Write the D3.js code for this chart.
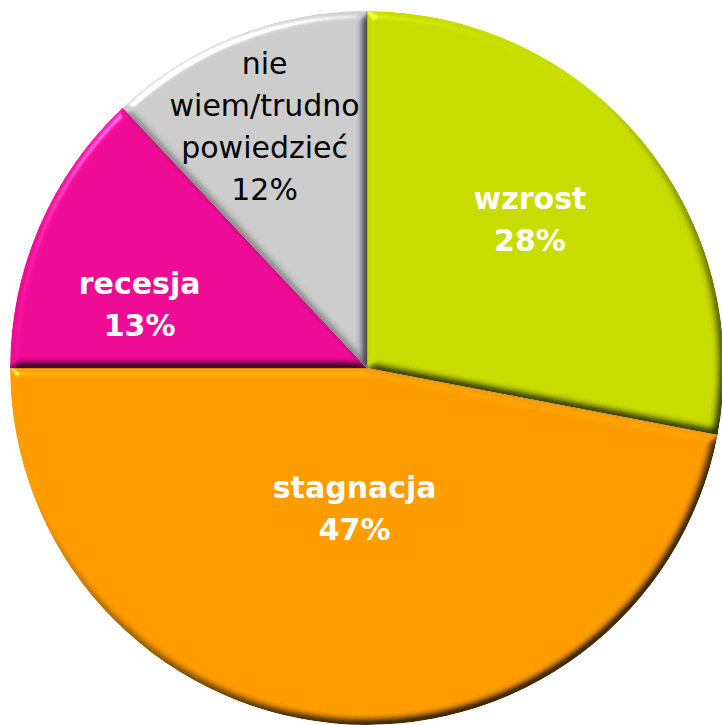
<!DOCTYPE html>
<html>
<head>
<meta charset="utf-8">
<script src="https://cdn.jsdelivr.net/npm/d3@7"></script>
<style>
  body { margin: 0; background: #fff; }
  svg { display: block; }
</style>
</head>
<body>
<div id="chart"></div>
<script>
// data
var categories = ["wzrost", "stagnacja", "recesja", "nie wiem/trudno powiedzieć"];
var labelLines = [["wzrost"], ["stagnacja"], ["recesja"], ["nie", "wiem/trudno", "powiedzieć"]];
var values = [28, 47, 13, 12];
var colors = ["#c8dc00", "#ff9c00", "#ee0c96", "#cdcdcd"];

var w = 722, h = 725;
var cx = 367, cy = 368, radius = 357;
// how far from the centre each label sits
var labelRadius = [220, 142, 236, 262];
var labelShift = [-2.6, -0.4, -7.9, -1.4]; // angle nudges (degrees)

var svg = d3.select("#chart").append("svg")
    .attr("width", w)
    .attr("height", h);

// bevel look: blurred alpha used as a height map
var defs = svg.append("defs");
var elev = 35;
var f = defs.append("filter").attr("id", "bevel")
    .attr("color-interpolation-filters", "sRGB")
    .attr("x", "-5%").attr("y", "-5%").attr("width", "110%").attr("height", "110%");
f.append("feGaussianBlur").attr("in", "SourceAlpha").attr("stdDeviation", 4.5).attr("result", "blur");
f.append("feSpecularLighting").attr("in", "blur").attr("surfaceScale", 5)
    .attr("specularConstant", 1.0).attr("specularExponent", 45)
    .attr("lighting-color", "#ffffff").attr("result", "spec")
    .append("feDistantLight").attr("azimuth", 235).attr("elevation", elev);
f.append("feComposite").attr("in", "spec").attr("in2", "SourceAlpha")
    .attr("operator", "in").attr("result", "specIn");
f.append("feDiffuseLighting").attr("in", "blur").attr("surfaceScale", 5)
    .attr("diffuseConstant", 1 / Math.sin(elev * Math.PI / 180))
    .attr("lighting-color", "#ffffff").attr("result", "diff")
    .append("feDistantLight").attr("azimuth", 235).attr("elevation", elev);
f.append("feComposite").attr("in", "SourceGraphic").attr("in2", "diff")
    .attr("operator", "arithmetic").attr("k1", 0.72).attr("k2", 0.28).attr("result", "lit");
f.append("feComposite").attr("in", "lit").attr("in2", "SourceAlpha")
    .attr("operator", "in").attr("result", "litIn");
f.append("feComposite").attr("in", "litIn").attr("in2", "specIn")
    .attr("operator", "arithmetic").attr("k2", 1).attr("k3", 0.45);

var g = svg.append("g").attr("transform", "translate(" + cx + "," + cy + ")");

var pie = d3.pie().sort(null).value(d => d);
var arcs = pie(values);
var arc = d3.arc().innerRadius(0).outerRadius(radius);

g.selectAll("path.slice")
    .data(arcs)
    .enter().append("path")
    .attr("class", "slice")
    .attr("d", arc)
    .attr("fill", (d, i) => colors[i])
    .attr("filter", "url(#bevel)");

// thin dark seams between slices
g.selectAll("line.seam")
    .data(arcs)
    .enter().append("line")
    .attr("x1", 0).attr("y1", 0)
    .attr("x2", d => radius * Math.sin(d.startAngle))
    .attr("y2", d => -radius * Math.cos(d.startAngle))
    .attr("stroke", "#444")
    .attr("stroke-opacity", 0.4)
    .attr("stroke-width", 1);

var labels = g.selectAll("text.lbl")
    .data(arcs)
    .enter().append("text")
    .attr("class", "lbl")
    .attr("text-anchor", "middle")
    .style("font-family", "'DejaVu Sans', Verdana, sans-serif")
    .style("font-size", "30px")
    .style("font-weight", (d, i) => i == 3 ? "normal" : "bold")
    .attr("fill", (d, i) => i == 3 ? "#000" : "#fff")
    .attr("transform", function (d, i) {
        var a = (d.startAngle + d.endAngle) / 2 + labelShift[i] * Math.PI / 180;
        return "translate(" + (labelRadius[i] * Math.sin(a)) + "," + (-labelRadius[i] * Math.cos(a)) + ")";
    });

labels.each(function (d, i) {
    var lines = labelLines[i].concat([values[i] + "%"]);
    var lh = 42;
    var top = -(lines.length - 1) * lh / 2 + 10;
    d3.select(this).selectAll("tspan")
        .data(lines)
        .enter().append("tspan")
        .attr("x", 0)
        .attr("y", (t, j) => top + j * lh)
        .text(t => t);
});
</script>
</body>
</html>
